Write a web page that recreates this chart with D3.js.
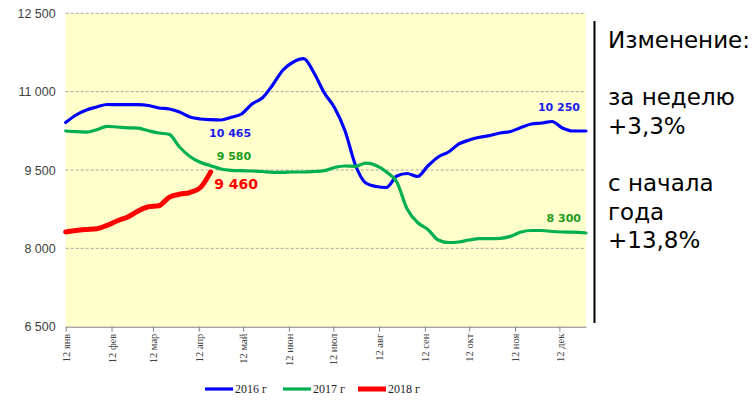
<!DOCTYPE html>
<html>
<head>
<meta charset="utf-8">
<script src="https://cdn.jsdelivr.net/npm/d3@7"></script>
<style>
  body { margin: 0; background: #fff; }
  .y.axis text { font-family: "Liberation Sans", Arial, sans-serif; font-size: 12.5px; fill: #404040; }
  .x.axis text { font-family: "Liberation Serif", "Times New Roman", serif; font-size: 10.5px; fill: #404040; }
  .legend text { font-family: "Liberation Serif", "Times New Roman", serif; font-size: 12px; fill: #222; }
  .note text { font-family: "DejaVu Sans", Verdana, sans-serif; font-size: 23px; fill: #000; }
  .label { font-family: "DejaVu Sans", Verdana, sans-serif; font-weight: bold; }
</style>
</head>
<body>
<div id="main_plot"></div>
<script>
// weekly points, x axis uses 2017 calendar
startDate = new Date(2017, 0, 12);
endDate = new Date(2017, 11, 30);
weekCount = 51;

tickDates = ["2017-01-12", "2017-02-12", "2017-03-12", "2017-04-12", "2017-05-12", "2017-06-12",
             "2017-07-12", "2017-08-12", "2017-09-12", "2017-10-12", "2017-11-12", "2017-12-12"];
tickLabels = ["12 янв", "12 фев", "12 мар", "12 апр", "12 май", "12 июн",
              "12 июл", "12 авг", "12 сен", "12 окт", "12 ноя", "12 дек"];
yTicks = [6500, 8000, 9500, 11000, 12500];

values2016 = [10409, 10553, 10649, 10706, 10754, 10750, 10750, 10750, 10735, 10687, 10668, 10610, 10515,
              10476, 10463, 10457, 10509, 10572, 10764, 10878, 11127, 11414, 11568, 11631, 11357, 10974,
              10687, 10247, 9596, 9251, 9184, 9165, 9385, 9433, 9376, 9577, 9749, 9845, 9998, 10074,
              10126, 10160, 10208, 10237, 10314, 10381, 10400, 10429, 10304, 10247, 10247];
values2017 = [10247, 10233, 10227, 10272, 10337, 10323, 10308, 10300, 10252, 10208, 10183, 9940, 9758,
              9647, 9583, 9519, 9494, 9487, 9481, 9471, 9456, 9456, 9462, 9462, 9471, 9487,
              9548, 9577, 9571, 9630, 9586, 9462, 9270, 8753, 8495, 8361, 8160, 8112, 8122, 8160,
              8185, 8185, 8192, 8231, 8313, 8342, 8342, 8323, 8313, 8309, 8294];
values2018 = [8313, 8342, 8361, 8376, 8441, 8529, 8600, 8715, 8797, 8815, 8977, 9035, 9069, 9160, 9460];

seriesNames = ["2016 г", "2017 г", "2018 г"];
seriesColors = ["#0000ff", "#00b050", "#ff0000"];
seriesWidths = [3.2, 3.2, 5];

// value labels: series index, point index, text
labelSeries = [0, 1, 2, 0, 1];
labelIndex = [14, 14, 14, 50, 50];
labelTexts = ["10 465", "9 580", "9 460", "10 250", "8 300"];

noteLines = ["Изменение:", "", "за неделю", "+3,3%", "", "с начала", "года", "+13,8%"];

margin = { top: 13.3, left: 65.7 },
  width = 520.3,
  height = 313.4;

function weekDate(i) {
  return i == weekCount - 1 ? endDate : d3.timeDay.offset(startDate, i * 7);
}

function makePlot() {
  let parseDate = d3.timeParse("%Y-%m-%d");
  let ruLocale = d3.formatLocale({ decimal: ",", thousands: "\u00a0", grouping: [3], currency: ["", ""] });
  let fmt = ruLocale.format(",d");

  let x = d3.scaleTime()
    .domain([startDate, endDate])
    .range([0, width]);

  let y = d3.scaleLinear()
    .domain([6500, 12500])
    .range([height, 0]);

  let svg = d3.select("#main_plot").append("svg")
    .attr("width", 753)
    .attr("height", 403);

  let g = svg.append("g")
    .attr("transform", "translate(" + margin.left + "," + margin.top + ")");

  g.append("rect")
    .attr("width", width)
    .attr("height", height)
    .attr("fill", "#ffffcc");

  // dashed grid
  g.selectAll(".grid")
    .data(yTicks.slice(1))
    .enter().append("line")
    .attr("class", "grid")
    .attr("x1", 0)
    .attr("x2", width)
    .attr("y1", d => y(d))
    .attr("y2", d => y(d))
    .attr("stroke", "#a6a6a6")
    .attr("stroke-width", 1)
    .attr("stroke-dasharray", "3,2");

  let yAxis = d3.axisLeft(y)
    .tickValues(yTicks)
    .tickFormat(fmt)
    .tickSize(0)
    .tickPadding(10);

  g.append("g")
    .attr("class", "y axis")
    .call(yAxis)
    .call(s => s.select(".domain").remove());

  let xAxis = d3.axisBottom(x)
    .tickValues(tickDates.map(parseDate))
    .tickFormat((d, i) => tickLabels[i])
    .tickSize(5)
    .tickSizeOuter(0);

  let xg = g.append("g")
    .attr("class", "x axis")
    .attr("transform", "translate(0," + height + ")")
    .call(xAxis);
  xg.select(".domain").attr("stroke", "#7f7f7f");
  xg.selectAll(".tick line").attr("stroke", "#7f7f7f");
  xg.selectAll(".tick text")
    .attr("transform", "rotate(-90)")
    .attr("text-anchor", "end")
    .attr("x", -7)
    .attr("y", 0)
    .attr("dy", "0.35em");

  let line = d3.line()
    .curve(d3.curveMonotoneX)
    .x((d, i) => x(weekDate(i)))
    .y(d => y(d));

  let allSeries = [values2016, values2017, values2018];

  g.selectAll(".line")
    .data(allSeries)
    .enter().append("path")
    .attr("class", "line")
    .attr("d", d => line(d))
    .attr("fill", "none")
    .attr("stroke", (d, i) => seriesColors[i])
    .attr("stroke-width", (d, i) => seriesWidths[i])
    .attr("stroke-linecap", "round")
    .attr("stroke-linejoin", "round");

  // value labels next to points
  let labelDx = [40.6, 40.6, 3.6, -6, -5];
  let labelDy = [17.5, -6, 16.5, -19.5, -10.5];
  let labelAnchor = ["end", "end", "start", "end", "end"];
  let labelSize = [11, 11, 14, 11, 11];
  let labelColors = ["#1a1aee", "#1e9a1e", "#ff0000", "#1a1aee", "#1e9a1e"];

  g.selectAll(".label")
    .data(labelTexts)
    .enter().append("text")
    .attr("class", "label")
    .attr("x", (d, i) => x(weekDate(labelIndex[i])) + labelDx[i])
    .attr("y", (d, i) => y(allSeries[labelSeries[i]][labelIndex[i]]) + labelDy[i])
    .attr("text-anchor", (d, i) => labelAnchor[i])
    .style("font-size", (d, i) => labelSize[i] + "px")
    .attr("fill", (d, i) => labelColors[i])
    .text(d => d);

  // legend
  let legendX = [205, 283, 358];
  let legend = svg.selectAll(".legend")
    .data(seriesNames)
    .enter().append("g")
    .attr("class", "legend")
    .attr("transform", (d, i) => "translate(" + legendX[i] + ",389)");

  legend.append("line")
    .attr("x1", 0)
    .attr("x2", 28)
    .attr("stroke", (d, i) => seriesColors[i])
    .attr("stroke-width", (d, i) => seriesWidths[i]);

  legend.append("text")
    .attr("x", 30)
    .attr("dy", "0.35em")
    .text(d => d);

  // right note
  svg.append("line")
    .attr("x1", 594.5)
    .attr("x2", 594.5)
    .attr("y1", 21)
    .attr("y2", 323)
    .attr("stroke", "#000")
    .attr("stroke-width", 2);

  let note = svg.append("g").attr("class", "note");
  note.selectAll("text")
    .data(noteLines)
    .enter().append("text")
    .attr("x", 608)
    .attr("y", (d, i) => 48 + i * 28.6)
    .text(d => d);
}

makePlot();
</script>
</body>
</html>
